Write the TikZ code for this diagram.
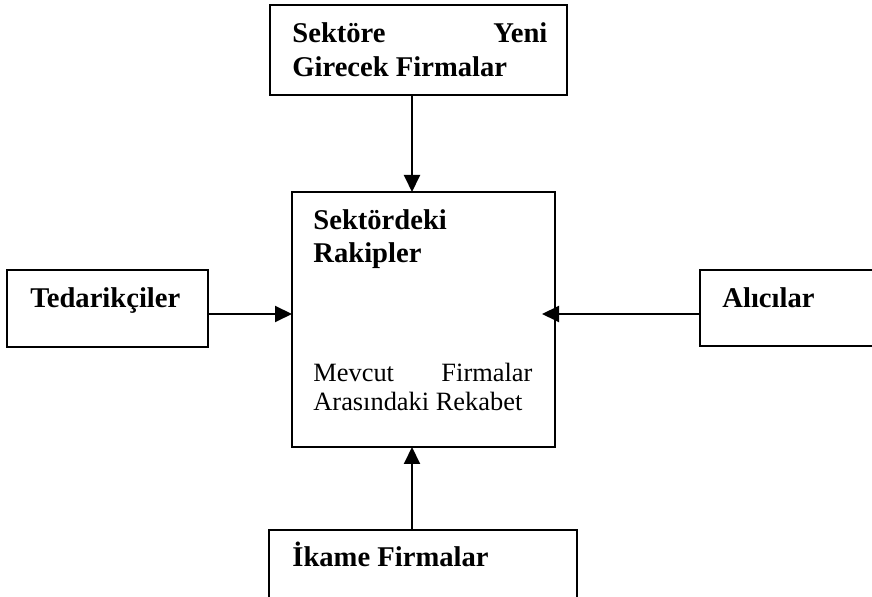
\documentclass[tikz,border=0pt]{standalone}
\usepackage{fontspec}
\setmainfont{Liberation Serif}
\usetikzlibrary{arrows.meta}
\tikzset{
	kutu/.style={draw, line width=1pt, inner sep=0pt, outer sep=0pt},
	ok/.style={-{Triangle[length=8.5pt,width=8pt]}, line width=1pt},
	kalin/.style={anchor=base west, inner sep=0pt, font=\fontsize{14.3}{17}\selectfont\bfseries},
	ince/.style={anchor=base west, inner sep=0pt, font=\fontsize{13.2}{14.5}\selectfont},
}
\begin{document}
\begin{tikzpicture}[x=0.5pt,y=-0.5pt]
	\useasboundingbox (0,0) rectangle (872,597);
	\node[kutu, minimum width=148.5pt, minimum height=45pt] (giris) at (418.5,50) {};
	\node[kutu, minimum width=131.5pt, minimum height=127.5pt] (rakip) at (423.5,319.5) {};
	\node[kutu, minimum width=100.5pt, minimum height=38.5pt] (tedarik) at (107.5,308.5) {};
	\node[kutu, minimum width=87pt, minimum height=38pt] (alici) at (787,308) {};
	\node[kutu, minimum width=154pt, minimum height=34pt] (ikame) at (423,564) {};
	\node[kalin] (giris1) at (292,43) {\hbox to 127.5pt{Sektöre\hfill Yeni}};
	\node[kalin] (giris2) at (292,77) {Girecek Firmalar};
	\node[kalin] (rakip1) at (313,230) {Sektördeki};
	\node[kalin] (rakip2) at (313,263) {Rakipler};
	\node[ince] (rakip3) at (313,382) {\hbox to 109.5pt{Mevcut\hfill Firmalar}};
	\node[ince] (rakip4) at (313,411) {Arasındaki Rekabet};
	\node[kalin] (tedarik1) at (30,308) {Tedarikçiler};
	\node[kalin] (alici1) at (722,308) {Alıcılar};
	\node[kalin] (ikame1) at (292,567) {İkame Firmalar};
	\coordinate (dikey) at (412,0);
	\coordinate (yatay) at (0,314);
	\coordinate (sagUc) at (542,314);
	\draw[ok] (giris.south -| dikey) -- (rakip.north -| dikey);
	\draw[ok] (ikame.north -| dikey) -- (rakip.south -| dikey);
	\draw[ok] (tedarik.east |- yatay) -- (rakip.west |- yatay);
	\draw[ok] (alici.west |- yatay) -- (sagUc);
\end{tikzpicture}
\end{document}
